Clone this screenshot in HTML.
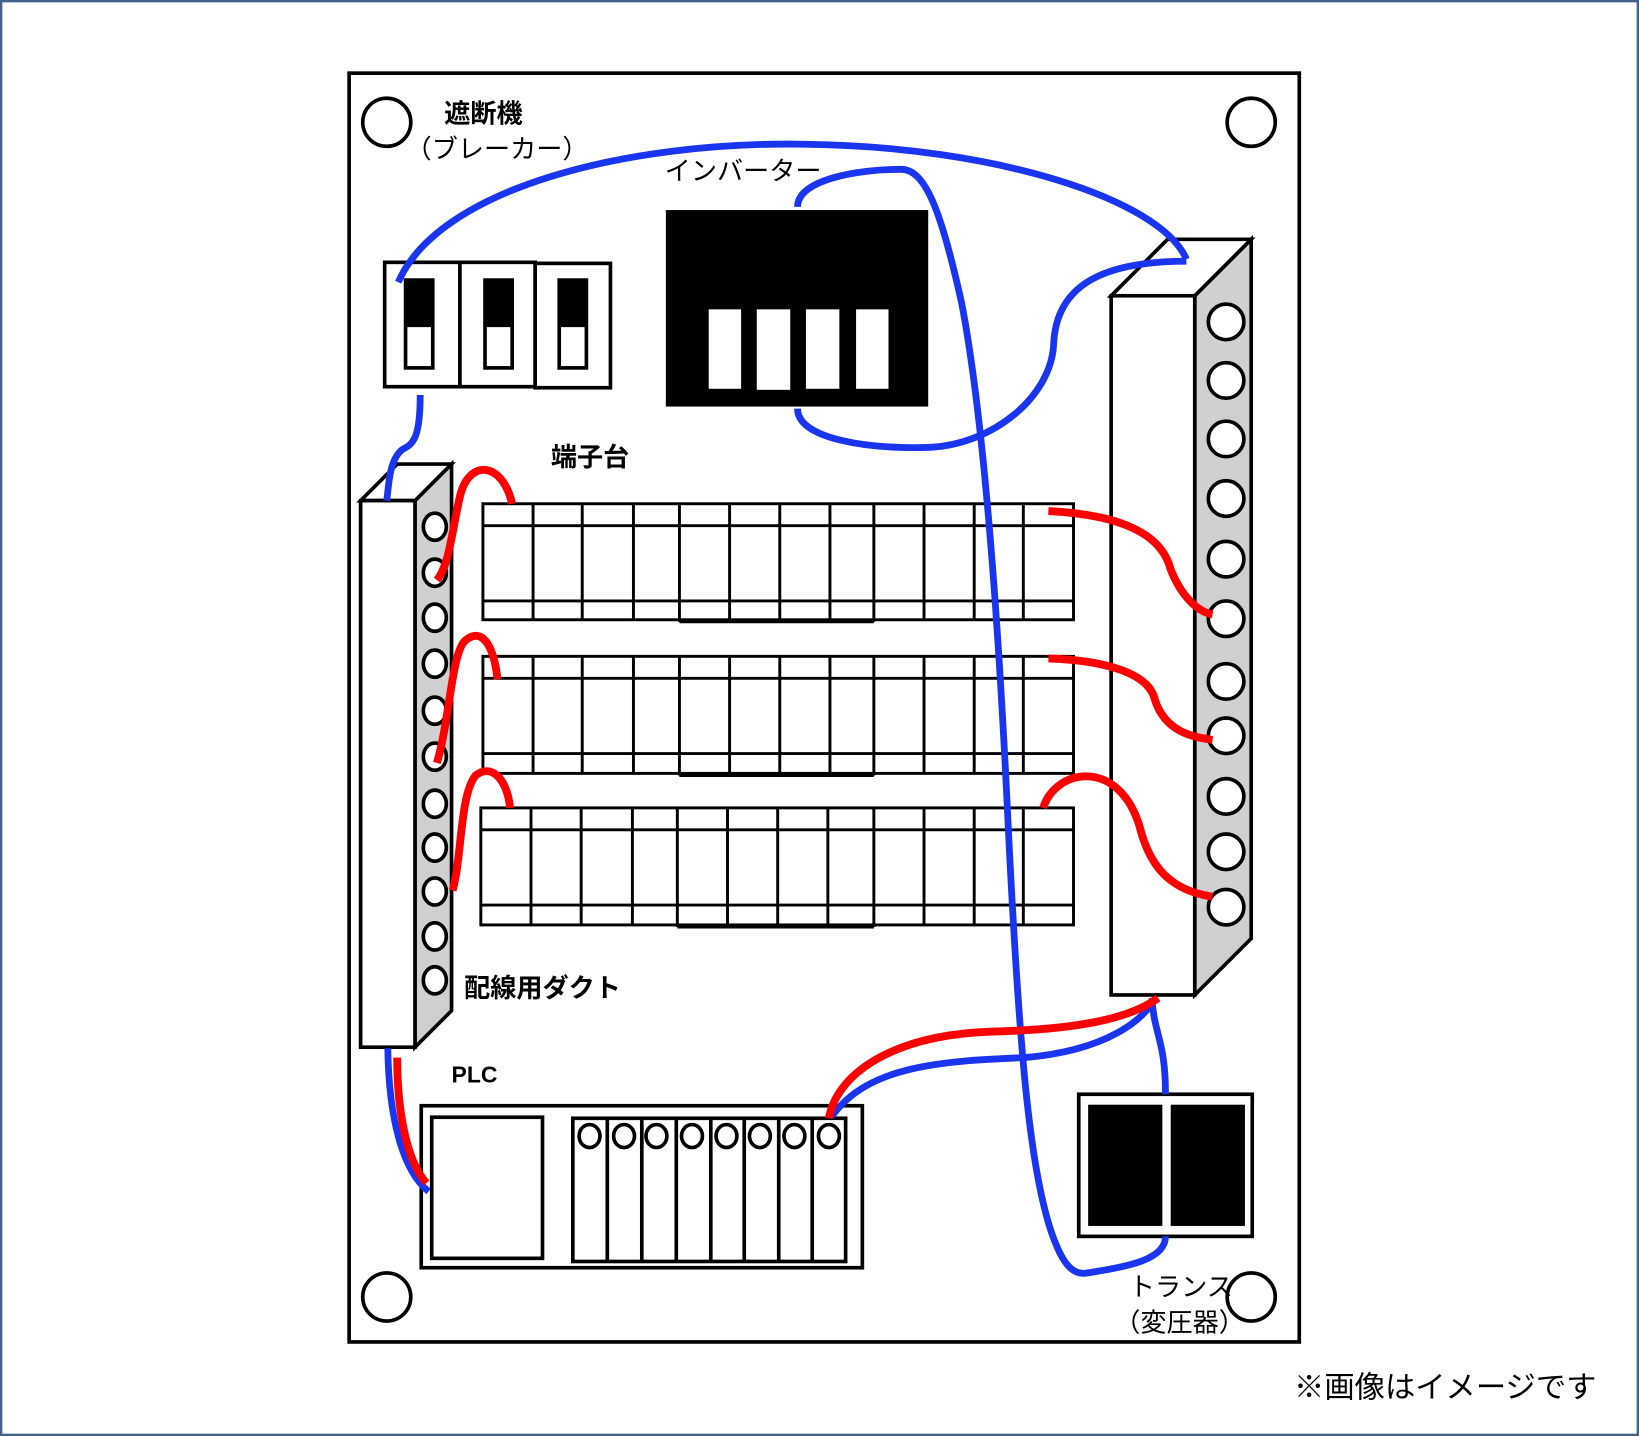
<!DOCTYPE html>
<html><head><meta charset="utf-8"><style>
html,body{margin:0;padding:0;background:#fff}
svg{display:block}
text{font-family:"Liberation Sans","Noto Sans CJK JP",sans-serif;fill:#000}
</style></head><body>
<svg width="1639" height="1436" viewBox="0 0 1568 1374" preserveAspectRatio="none" xmlns="http://www.w3.org/2000/svg">
<rect x="1" y="1" width="1566" height="1372" fill="#fff" stroke="#41628a" stroke-width="2.5"/>
<rect x="334" y="70" width="909" height="1214" fill="#fff" stroke="#000" stroke-width="3.5"/>
<g fill="none" stroke="#000" stroke-width="3.5">
<circle cx="370" cy="117" r="23"/><circle cx="1197" cy="117" r="23"/>
<circle cx="370" cy="1241" r="23"/><circle cx="1197" cy="1241" r="23"/>
</g>
<g font-weight="bold" font-size="25">
<text x="425" y="117">遮断機</text>
<text x="527" y="446">端子台</text>
<text x="444" y="954">配線用ダクト</text>
<text x="432" y="1036" font-size="22">PLC</text>
</g>
<g font-size="25">
<text x="388" y="151">（ブレーカー）</text>
<text x="636" y="172">インバーター</text>
<text x="1080" y="1240">トランス</text>
<text x="1066" y="1274">（変圧器）</text>
<text x="1238" y="1337" font-size="29">※画像はイメージです</text>
</g>
<g stroke="#000" stroke-width="3.5" fill="#fff">
<rect x="368" y="251" width="72" height="119"/><rect x="440" y="251" width="72" height="119"/><rect x="512" y="252" width="72" height="119"/>
<rect x="388" y="268" width="26" height="84"/><rect x="464" y="268" width="26" height="84"/><rect x="535" y="268" width="26" height="84"/>
</g>
<g fill="#000"><rect x="388" y="268" width="26" height="45"/><rect x="464" y="268" width="26" height="45"/><rect x="535" y="268" width="26" height="45"/></g>
<rect x="637" y="201" width="251" height="188" fill="#000"/>
<g fill="#fff"><rect x="678" y="296" width="31" height="76"/><rect x="724" y="296" width="32" height="77"/><rect x="771" y="296" width="32" height="76"/><rect x="819" y="296" width="31" height="76"/></g>
<g stroke="#000" stroke-width="3.5">
<polygon points="397,479 432,444 432,967 397,1002" fill="#d0d0d0"/>
<polygon points="345,479 380,444 432,444 397,479" fill="#fff"/>
<rect x="345" y="479" width="52" height="523" fill="#fff"/>
</g>
<g fill="#fff" stroke="#000" stroke-width="3.5">
<ellipse cx="416" cy="504" rx="11" ry="13"/><ellipse cx="416" cy="548" rx="11" ry="13"/><ellipse cx="416" cy="591" rx="11" ry="13"/><ellipse cx="416" cy="635" rx="11" ry="13"/><ellipse cx="416" cy="680" rx="11" ry="13"/><ellipse cx="416" cy="724" rx="11" ry="13"/><ellipse cx="416" cy="769" rx="11" ry="13"/><ellipse cx="416" cy="811" rx="11" ry="13"/><ellipse cx="416" cy="853" rx="11" ry="13"/><ellipse cx="416" cy="896" rx="11" ry="13"/><ellipse cx="416" cy="938" rx="11" ry="13"/>
</g>
<g stroke="#000" stroke-width="3.5">
<polygon points="1143,283 1197,229 1197,898 1143,952" fill="#d0d0d0"/>
<polygon points="1063,283 1117,229 1197,229 1143,283" fill="#fff"/>
<rect x="1063" y="283" width="80" height="669" fill="#fff"/>
</g>
<g fill="#fff" stroke="#000" stroke-width="3.5">
<circle cx="1173" cy="308" r="17"/><circle cx="1173" cy="364" r="17"/><circle cx="1173" cy="420" r="17"/><circle cx="1173" cy="477" r="17"/><circle cx="1173" cy="535" r="17"/><circle cx="1173" cy="592" r="17"/><circle cx="1173" cy="652" r="17"/><circle cx="1173" cy="704" r="17"/><circle cx="1173" cy="762" r="17"/><circle cx="1173" cy="815" r="17"/><circle cx="1173" cy="868" r="17"/>
</g>
<g fill="none" stroke="#000" stroke-width="2.8">
<rect x="462" y="482" width="565" height="111" fill="#fff"/>
<path d="M462,503H1027M462,575H1027M510,482V593M557,482V593M606,482V593M650,482V595M698,482V593M746,482V593M794,482V593M836,482V595M884,482V593M932,482V593M979,482V593M650,595H836"/>
<rect x="462" y="628" width="565" height="112" fill="#fff"/>
<path d="M462,649H1027M462,721H1027M510,628V740M557,628V740M606,628V740M650,628V742M698,628V740M746,628V740M794,628V740M836,628V742M884,628V740M932,628V740M979,628V740M650,742H836"/>
<rect x="460" y="773" width="567" height="112" fill="#fff"/>
<path d="M460,794H1027M460,866H1027M508,773V885M556,773V885M605,773V885M648,773V887M696,773V885M744,773V885M792,773V885M836,773V887M884,773V885M932,773V885M979,773V885M648,887H836"/>
</g>
<g fill="#fff" stroke="#000" stroke-width="3.5">
<rect x="403" y="1058" width="422" height="155"/>
<rect x="413" y="1069" width="106" height="135"/>
<rect x="548" y="1070" width="261" height="137"/>
<path d="M581,1070V1207M614,1070V1207M647,1070V1207M680,1070V1207M712,1070V1207M745,1070V1207M777,1070V1207" fill="none"/>
<ellipse cx="564" cy="1087" rx="10" ry="11"/><ellipse cx="597" cy="1087" rx="10" ry="11"/><ellipse cx="628" cy="1087" rx="10" ry="11"/><ellipse cx="662" cy="1087" rx="10" ry="11"/><ellipse cx="695" cy="1087" rx="10" ry="11"/><ellipse cx="727" cy="1087" rx="10" ry="11"/><ellipse cx="760" cy="1087" rx="10" ry="11"/><ellipse cx="793" cy="1087" rx="10" ry="11"/>
</g>
<rect x="1032" y="1047" width="166" height="136" fill="#fff" stroke="#000" stroke-width="3.5"/>
<rect x="1041" y="1057" width="71" height="116" fill="#000"/><rect x="1120" y="1057" width="71" height="116" fill="#000"/>
<g fill="none" stroke="#1a35f0" stroke-width="6.5">
<path d="M381,270 C420,180 600,135 770,138 C950,140 1110,190 1135,248"/>
<path d="M763,198 C763,172 820,162 862,162 C885,162 900,200 920,290 C945,420 958,650 965,800 C975,1000 985,1130 1010,1190 C1020,1215 1030,1220 1040,1218 C1080,1212 1115,1205 1115,1183"/>
<path d="M763,391 C763,420 830,430 890,428 C950,425 1005,380 1008,330 C1010,270 1060,250 1135,250"/>
<path d="M402,378 C402,420 395,425 385,430 C372,440 372,465 370,479"/>
<path d="M371,1003 C372,1070 385,1120 410,1140"/>
<path d="M1105,955 C1095,975 1060,1005 980,1012 C900,1015 830,1020 796,1068"/>
<path d="M1102,955 C1104,990 1115,995 1115,1047"/>
</g>
<g fill="none" stroke="#ff0000" stroke-width="7.5">
<path d="M380,1012 C380,1060 388,1110 408,1132"/>
<path d="M1108,955 C1080,975 1030,985 950,987 C850,990 800,1030 793,1070"/>
<path d="M418,555 C430,540 432,510 440,475 C448,440 480,440 490,482"/>
<path d="M418,730 C430,690 432,625 445,613 C460,600 472,615 476,650"/>
<path d="M433,852 C442,820 440,760 455,742 C470,730 485,745 488,773"/>
<path d="M1003,489 C1060,492 1110,505 1120,545 C1130,570 1145,585 1160,588"/>
<path d="M1003,630 C1060,632 1100,645 1105,670 C1115,700 1140,705 1160,708"/>
<path d="M998,773 C1010,735 1070,725 1090,790 C1100,830 1120,852 1160,858"/>
</g>
</svg>
</body></html>
